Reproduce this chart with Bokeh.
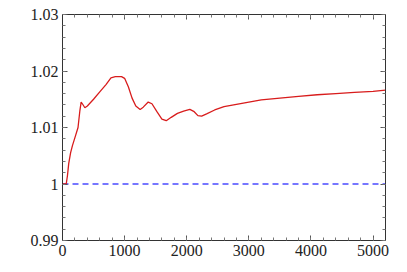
from bokeh.plotting import figure
from bokeh.models import LinearAxis, SingleIntervalTicker, CustomJSTickFormatter, Range1d
from bokeh.embed import file_html
from bokeh.resources import INLINE

# data
x_vals = [0, 60, 80, 100, 130, 160, 200, 250, 280, 300, 320, 360, 400, 500, 600, 700, 780,
          850, 950, 1000, 1060, 1120, 1180, 1250, 1300, 1380, 1440, 1520, 1600, 1670, 1750,
          1850, 1950, 2050, 2120, 2180, 2240, 2320, 2450, 2600, 2800, 3000, 3200, 3500, 3800,
          4100, 4400, 4700, 5000, 5200]
y_vals = [1.0, 1.0, 1.0015, 1.0036, 1.0055, 1.0068, 1.0082, 1.0100, 1.0130, 1.0145, 1.0142,
          1.0135, 1.0138, 1.0150, 1.0163, 1.0176, 1.0188, 1.0190, 1.0190, 1.0187, 1.0172,
          1.0152, 1.0138, 1.0132, 1.0136, 1.0145, 1.0142, 1.0128, 1.0115, 1.0112, 1.0118,
          1.0125, 1.0129, 1.0132, 1.0128, 1.0121, 1.0120, 1.0124, 1.0131, 1.0137, 1.0141,
          1.0145, 1.0149, 1.0152, 1.0155, 1.0158, 1.0160, 1.0162, 1.0164, 1.0166]
ref_x = [0, 5200]
ref_y = [1.0, 1.0]

FONT = "serif"

p = figure(width=407, height=272, output_backend="svg", toolbar_location=None,
           x_range=Range1d(0, 5200), y_range=Range1d(0.99, 1.03),
           x_axis_location=None, y_axis_location=None)
p.min_border_left = 62
p.min_border_right = 22
p.min_border_top = 14
p.min_border_bottom = 32
p.outline_line_color = None
p.xgrid.visible = False
p.ygrid.visible = False
p.background_fill_color = "white"
p.border_fill_color = "white"

fmt = CustomJSTickFormatter(code="return String(Math.round(tick*100)/100);")
blank = CustomJSTickFormatter(code="return '';")

def style(ax, labels):
    ax.axis_line_color = "#333333"
    ax.axis_line_width = 1
    ax.major_tick_in = 5
    ax.major_tick_out = 0
    ax.minor_tick_in = 3
    ax.minor_tick_out = 0
    ax.major_tick_line_color = "#555555"
    ax.minor_tick_line_color = "#777777"
    ax.major_label_text_font = FONT
    ax.major_label_text_font_size = "16px"
    ax.major_label_text_font_style = "normal"
    ax.major_label_text_color = "#222222"
    ax.major_label_standoff = 4 if labels else 0

for loc, labels in (("below", True), ("above", False)):
    ax = LinearAxis(ticker=SingleIntervalTicker(interval=1000, num_minor_ticks=5))
    if not labels:
        ax.formatter = blank
    style(ax, labels)
    p.add_layout(ax, loc)
for loc, labels in (("left", True), ("right", False)):
    ax = LinearAxis(ticker=SingleIntervalTicker(interval=0.01, num_minor_ticks=5),
                    formatter=fmt if labels else blank)
    style(ax, labels)
    p.add_layout(ax, loc)

p.line(ref_x, ref_y, line_color="#4a4aff", line_width=1.3, line_dash="6 4")
p.line(x_vals, y_vals, line_color="#d81c1c", line_width=1.3)

open("out.html", "w").write(file_html(p, INLINE))
